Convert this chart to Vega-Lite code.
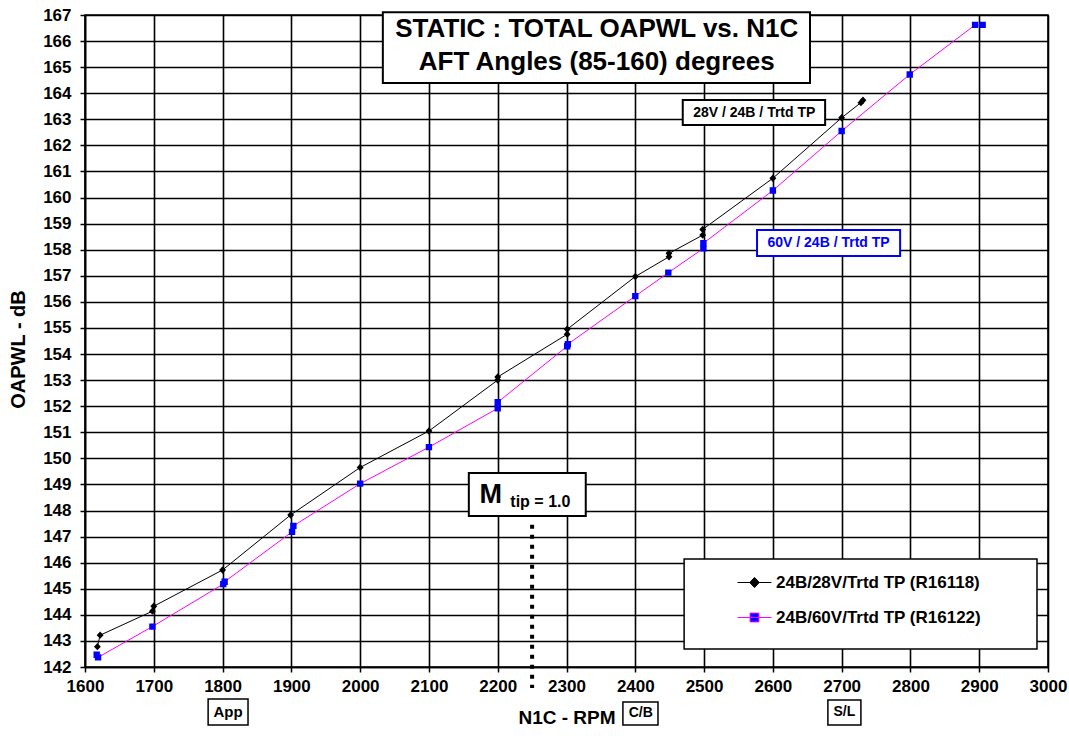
{
  "$schema": "https://vega.github.io/schema/vega-lite/v6.json",
  "width": 963,
  "height": 652,
  "autosize": "none",
  "padding": {"left": 85, "top": 15, "right": 21, "bottom": 69},
  "background": "white",
  "config": {
    "font": "Liberation Sans",
    "view": {"stroke": "black", "strokeWidth": 1.6},
    "axis": {
      "grid": true, "gridColor": "black", "gridWidth": 1.6, "gridOpacity": 1,
      "domainColor": "black", "domainWidth": 1.6,
      "tickColor": "black", "tickSize": 5, "tickWidth": 1.5,
      "labelFont": "Liberation Sans", "labelFontSize": 17, "labelFontWeight": "bold", "labelColor": "black",
      "labelOverlap": false, "labelFlush": false, "format": "d",
      "titleFont": "Liberation Sans", "titleFontWeight": "bold", "titleColor": "black"
    },
    "axisX": {"tickCount": 14, "labelPadding": 6, "titleFontSize": 19, "titlePadding": 14},
    "axisY": {"tickCount": 25, "labelPadding": 9, "titleFontSize": 20}
  },
  "datasets": {
    "noise": [
      {"series": "24B/28V/Trtd TP (R16118)", "rpm": 1618, "db": 142.78},
      {"series": "24B/28V/Trtd TP (R16118)", "rpm": 1622, "db": 143.22},
      {"series": "24B/28V/Trtd TP (R16118)", "rpm": 1698, "db": 144.14},
      {"series": "24B/28V/Trtd TP (R16118)", "rpm": 1700, "db": 144.33},
      {"series": "24B/28V/Trtd TP (R16118)", "rpm": 1800, "db": 145.72},
      {"series": "24B/28V/Trtd TP (R16118)", "rpm": 1899, "db": 147.83},
      {"series": "24B/28V/Trtd TP (R16118)", "rpm": 2000, "db": 149.65},
      {"series": "24B/28V/Trtd TP (R16118)", "rpm": 2100, "db": 151.05},
      {"series": "24B/28V/Trtd TP (R16118)", "rpm": 2200, "db": 153.0},
      {"series": "24B/28V/Trtd TP (R16118)", "rpm": 2200, "db": 153.12},
      {"series": "24B/28V/Trtd TP (R16118)", "rpm": 2301, "db": 154.76},
      {"series": "24B/28V/Trtd TP (R16118)", "rpm": 2301, "db": 154.95},
      {"series": "24B/28V/Trtd TP (R16118)", "rpm": 2400, "db": 156.97},
      {"series": "24B/28V/Trtd TP (R16118)", "rpm": 2449, "db": 157.73},
      {"series": "24B/28V/Trtd TP (R16118)", "rpm": 2449, "db": 157.86},
      {"series": "24B/28V/Trtd TP (R16118)", "rpm": 2498, "db": 158.56},
      {"series": "24B/28V/Trtd TP (R16118)", "rpm": 2498, "db": 158.78},
      {"series": "24B/28V/Trtd TP (R16118)", "rpm": 2600, "db": 160.74},
      {"series": "24B/28V/Trtd TP (R16118)", "rpm": 2700, "db": 163.06},
      {"series": "24B/28V/Trtd TP (R16118)", "rpm": 2728, "db": 163.64},
      {"series": "24B/28V/Trtd TP (R16118)", "rpm": 2731, "db": 163.73},
      {"series": "24B/60V/Trtd TP (R16122)", "rpm": 1617, "db": 142.47},
      {"series": "24B/60V/Trtd TP (R16122)", "rpm": 1619, "db": 142.37},
      {"series": "24B/60V/Trtd TP (R16122)", "rpm": 1698, "db": 143.55},
      {"series": "24B/60V/Trtd TP (R16122)", "rpm": 1801, "db": 145.18},
      {"series": "24B/60V/Trtd TP (R16122)", "rpm": 1803, "db": 145.27},
      {"series": "24B/60V/Trtd TP (R16122)", "rpm": 1901, "db": 147.18},
      {"series": "24B/60V/Trtd TP (R16122)", "rpm": 1903, "db": 147.41},
      {"series": "24B/60V/Trtd TP (R16122)", "rpm": 2000, "db": 149.03},
      {"series": "24B/60V/Trtd TP (R16122)", "rpm": 2100, "db": 150.43},
      {"series": "24B/60V/Trtd TP (R16122)", "rpm": 2200, "db": 151.92},
      {"series": "24B/60V/Trtd TP (R16122)", "rpm": 2200, "db": 152.15},
      {"series": "24B/60V/Trtd TP (R16122)", "rpm": 2301, "db": 154.3},
      {"series": "24B/60V/Trtd TP (R16122)", "rpm": 2302, "db": 154.38},
      {"series": "24B/60V/Trtd TP (R16122)", "rpm": 2400, "db": 156.22},
      {"series": "24B/60V/Trtd TP (R16122)", "rpm": 2448, "db": 157.12},
      {"series": "24B/60V/Trtd TP (R16122)", "rpm": 2499, "db": 158.05},
      {"series": "24B/60V/Trtd TP (R16122)", "rpm": 2499, "db": 158.25},
      {"series": "24B/60V/Trtd TP (R16122)", "rpm": 2600, "db": 160.27},
      {"series": "24B/60V/Trtd TP (R16122)", "rpm": 2700, "db": 162.55},
      {"series": "24B/60V/Trtd TP (R16122)", "rpm": 2799, "db": 164.72},
      {"series": "24B/60V/Trtd TP (R16122)", "rpm": 2894, "db": 166.62},
      {"series": "24B/60V/Trtd TP (R16122)", "rpm": 2905, "db": 166.62}
    ]
  },
  "layer": [
    {
      "data": {"name": "noise"},
      "mark": {"type": "line", "strokeWidth": 1},
      "encoding": {
        "x": {
          "field": "rpm", "type": "quantitative",
          "scale": {"domain": [1600, 3000], "nice": false, "zero": false},
          "axis": {"title": "N1C - RPM"}
        },
        "y": {
          "field": "db", "type": "quantitative",
          "scale": {"domain": [142, 167], "nice": false, "zero": false},
          "axis": {"title": "OAPWL - dB", "titleX": -57, "titleY": 334}
        },
        "stroke": {
          "field": "series", "type": "nominal",
          "scale": {"domain": ["24B/28V/Trtd TP (R16118)", "24B/60V/Trtd TP (R16122)"], "range": ["#000000", "#ff00ff"]},
          "legend": {
            "title": null, "orient": "none", "legendX": 652, "legendY": 550,
            "labelFontSize": 17, "labelFontWeight": "bold", "labelColor": "black", "labelLimit": 400,
            "symbolSize": 1156, "symbolStrokeWidth": 1, "rowPadding": 9, "labelOffset": 4, "padding": 0
          }
        }
      }
    },
    {
      "data": {"values": [{}]},
      "mark": {"type": "rect", "fill": "white", "stroke": "black", "strokeWidth": 1.5},
      "encoding": {
        "x": {"datum": 2471, "type": "quantitative"},
        "x2": {"datum": 2984},
        "y": {"datum": 146.14, "type": "quantitative"},
        "y2": {"datum": 142.69}
      }
    },
    {
      "data": {"name": "noise"},
      "mark": {"type": "point", "filled": true, "opacity": 1, "size": 600},
      "encoding": {
        "x": {"field": "rpm", "type": "quantitative"},
        "y": {"field": "db", "type": "quantitative"},
        "fill": {
          "field": "series", "type": "nominal",
          "scale": {"domain": ["24B/28V/Trtd TP (R16118)", "24B/60V/Trtd TP (R16122)"], "range": ["#000000", "#0000ff"]},
          "legend": {
            "title": null, "orient": "none", "legendX": 652, "legendY": 550,
            "labelFontSize": 17, "labelFontWeight": "bold", "labelColor": "black", "labelLimit": 400,
            "symbolSize": 1156, "symbolStrokeWidth": 1, "rowPadding": 9, "labelOffset": 4, "padding": 0
          }
        },
        "shape": {
          "field": "series", "type": "nominal",
          "scale": {"domain": ["24B/28V/Trtd TP (R16118)", "24B/60V/Trtd TP (R16122)"], "range": ["M-1,0H1M0,-0.3L0.28,0L0,0.3L-0.28,0Z", "M-1,0H1M-0.26,-0.26H0.26V0.26H-0.26Z"]},
          "legend": {
            "title": null, "orient": "none", "legendX": 652, "legendY": 550,
            "labelFontSize": 17, "labelFontWeight": "bold", "labelColor": "black", "labelLimit": 400,
            "symbolSize": 1156, "symbolStrokeWidth": 1, "rowPadding": 9, "labelOffset": 4, "padding": 0
          }
        }
      }
    },
    {
      "data": {"values": [{}]},
      "mark": {"type": "rect", "fill": "white", "stroke": "black", "strokeWidth": 2},
      "encoding": {
        "x": {"datum": 2033, "type": "quantitative"}, "x2": {"datum": 2654},
        "y": {"datum": 167.11, "type": "quantitative"}, "y2": {"datum": 164.39}
      }
    },
    {
      "data": {"values": [{}]},
      "mark": {"type": "text", "text": "STATIC : TOTAL OAPWL vs. N1C", "fontSize": 26, "fontWeight": "bold", "color": "black", "baseline": "middle", "align": "center"},
      "encoding": {"x": {"datum": 2344, "type": "quantitative"}, "y": {"datum": 166.46, "type": "quantitative"}}
    },
    {
      "data": {"values": [{}]},
      "mark": {"type": "text", "text": "AFT Angles (85-160) degrees", "fontSize": 26, "fontWeight": "bold", "color": "black", "baseline": "middle", "align": "center"},
      "encoding": {"x": {"datum": 2344, "type": "quantitative"}, "y": {"datum": 165.18, "type": "quantitative"}}
    },
    {
      "data": {"values": [{}]},
      "mark": {"type": "rect", "fill": "white", "stroke": "black", "strokeWidth": 2},
      "encoding": {
        "x": {"datum": 2469, "type": "quantitative"}, "x2": {"datum": 2676},
        "y": {"datum": 163.74, "type": "quantitative"}, "y2": {"datum": 162.78}
      }
    },
    {
      "data": {"values": [{}]},
      "mark": {"type": "text", "text": "28V / 24B / Trtd TP", "fontSize": 14, "fontWeight": "bold", "color": "black", "baseline": "middle", "align": "center"},
      "encoding": {"x": {"datum": 2573, "type": "quantitative"}, "y": {"datum": 163.26, "type": "quantitative"}}
    },
    {
      "data": {"values": [{}]},
      "mark": {"type": "rect", "fill": "white", "stroke": "#0000ff", "strokeWidth": 2},
      "encoding": {
        "x": {"datum": 2577, "type": "quantitative"}, "x2": {"datum": 2785},
        "y": {"datum": 158.76, "type": "quantitative"}, "y2": {"datum": 157.76}
      }
    },
    {
      "data": {"values": [{}]},
      "mark": {"type": "text", "text": "60V / 24B / Trtd TP", "fontSize": 14, "fontWeight": "bold", "color": "#0000ff", "baseline": "middle", "align": "center"},
      "encoding": {"x": {"datum": 2681, "type": "quantitative"}, "y": {"datum": 158.26, "type": "quantitative"}}
    },
    {
      "data": {"values": [{}]},
      "mark": {"type": "rule", "strokeWidth": 4, "strokeDash": [4, 6], "color": "black"},
      "encoding": {
        "x": {"datum": 2250, "type": "quantitative"},
        "y": {"datum": 147.45, "type": "quantitative"}, "y2": {"datum": 141.19}
      }
    },
    {
      "data": {"values": [{}]},
      "mark": {"type": "rect", "fill": "white", "stroke": "black", "strokeWidth": 2},
      "encoding": {
        "x": {"datum": 2158, "type": "quantitative"}, "x2": {"datum": 2328},
        "y": {"datum": 149.44, "type": "quantitative"}, "y2": {"datum": 147.79}
      }
    },
    {
      "data": {"values": [{}]},
      "mark": {"type": "text", "text": "M", "fontSize": 27, "fontWeight": "bold", "color": "black", "baseline": "alphabetic", "align": "center"},
      "encoding": {"x": {"datum": 2190, "type": "quantitative"}, "y": {"datum": 148.29, "type": "quantitative"}}
    },
    {
      "data": {"values": [{}]},
      "mark": {"type": "text", "text": "tip = 1.0", "fontSize": 16, "fontWeight": "bold", "color": "black", "baseline": "alphabetic", "align": "center"},
      "encoding": {"x": {"datum": 2262, "type": "quantitative"}, "y": {"datum": 148.13, "type": "quantitative"}}
    },
    {
      "data": {"values": [{}]},
      "mark": {"type": "rect", "fill": "white", "stroke": "black", "strokeWidth": 1.5},
      "encoding": {
        "x": {"datum": 1779, "type": "quantitative"}, "x2": {"datum": 1837},
        "y": {"datum": 140.77, "type": "quantitative"}, "y2": {"datum": 139.78}
      }
    },
    {
      "data": {"values": [{}]},
      "mark": {"type": "text", "text": "App", "fontSize": 15, "fontWeight": "bold", "color": "black", "baseline": "middle", "align": "center"},
      "encoding": {"x": {"datum": 1808, "type": "quantitative"}, "y": {"datum": 140.27, "type": "quantitative"}}
    },
    {
      "data": {"values": [{}]},
      "mark": {"type": "rect", "fill": "white", "stroke": "black", "strokeWidth": 1.5},
      "encoding": {
        "x": {"datum": 2382, "type": "quantitative"}, "x2": {"datum": 2433},
        "y": {"datum": 140.66, "type": "quantitative"}, "y2": {"datum": 139.78}
      }
    },
    {
      "data": {"values": [{}]},
      "mark": {"type": "text", "text": "C/B", "fontSize": 14, "fontWeight": "bold", "color": "black", "baseline": "middle", "align": "center"},
      "encoding": {"x": {"datum": 2408, "type": "quantitative"}, "y": {"datum": 140.22, "type": "quantitative"}}
    },
    {
      "data": {"values": [{}]},
      "mark": {"type": "rect", "fill": "white", "stroke": "black", "strokeWidth": 1.5},
      "encoding": {
        "x": {"datum": 2680, "type": "quantitative"}, "x2": {"datum": 2728},
        "y": {"datum": 140.73, "type": "quantitative"}, "y2": {"datum": 139.78}
      }
    },
    {
      "data": {"values": [{}]},
      "mark": {"type": "text", "text": "S/L", "fontSize": 14, "fontWeight": "bold", "color": "black", "baseline": "middle", "align": "center"},
      "encoding": {"x": {"datum": 2704, "type": "quantitative"}, "y": {"datum": 140.26, "type": "quantitative"}}
    }
  ]
}
